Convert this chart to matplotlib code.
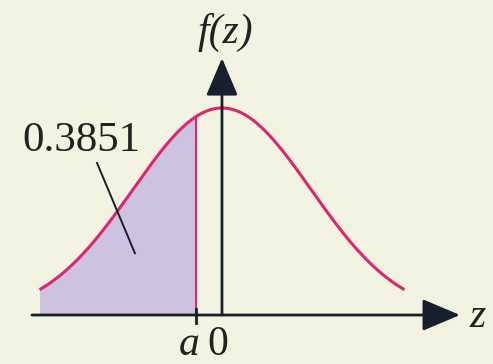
import math
import numpy as np
import matplotlib
matplotlib.use("Agg")
import matplotlib.pyplot as plt

# left-tail probability shown on the figure
area_label = "0.3851"
area = float(area_label)
z_range = [-2.05, 2.05]
axis_labels = ["f(z)", "z"]
tick_labels = ["a", "0"]


def cdf(z):
    return 0.5 * (1 + math.erf(z / math.sqrt(2)))


def inv_cdf(p, lo=-6.0, hi=6.0):
    for _ in range(80):
        mid = 0.5 * (lo + hi)
        if cdf(mid) < p:
            lo = mid
        else:
            hi = mid
    return 0.5 * (lo + hi)


a = inv_cdf(area)
z = np.linspace(z_range[0], z_range[1], 400)
fz = np.exp(-z ** 2 / 2) / math.sqrt(2 * math.pi)

bg = "#f2f4e1"
pink = "#e0256e"
ink = "#17202c"
serif = ["Liberation Serif", "DejaVu Serif"]

fig = plt.figure(figsize=(4.93, 3.64), dpi=100, facecolor=bg)
ax = fig.add_axes([0, 0, 1, 1])
ax.set_facecolor(bg)
ax.set_xlim(-2.494, 3.045)
ax.set_ylim(-0.0944, 0.607)
ax.axis("off")

# shaded tail
m = z <= a
ax.fill_between(np.append(z[m], a), 0, np.append(fz[m], math.exp(-a * a / 2) / math.sqrt(2 * math.pi)),
                color="#cdc2df", lw=0, zorder=1)
ax.plot(z, fz, color=pink, lw=2.2, zorder=3, solid_capstyle="butt")
ax.plot([a, a], [0, math.exp(-a * a / 2) / math.sqrt(2 * math.pi)], color=pink, lw=1.5, zorder=3)

# axes with arrows
arrow = dict(arrowstyle="-|>,head_length=1.3,head_width=0.55", color=ink, lw=2,
             mutation_scale=18, shrinkA=0, shrinkB=0)
ax.annotate("", xy=(2.674, 0), xytext=(-2.135, 0), arrowprops=arrow, zorder=4)
ax.annotate("", xy=(0, 0.495), xytext=(0, 0), arrowprops=arrow, zorder=4)
ax.plot([a, a], [-0.015, 0.012], color=ink, lw=2, zorder=4)

# leader line for the tail area
ax.plot([-1.404, -0.978], [0.293, 0.119], color=ink, lw=1.4, zorder=4)

ax.text(-1.584, 0.335, area_label, fontsize=31, family=serif, color="#222",
        ha="center", va="center")
ax.text(0.034, 0.545, axis_labels[0], fontsize=30, family=serif, style="italic",
        color="#222", ha="center", va="center")
ax.text(2.876, -0.004, axis_labels[1], fontsize=30, family=serif, style="italic",
        color="#222", ha="center", va="center")
ax.text(a - 0.08, -0.058, tick_labels[0], fontsize=30, family=serif, style="italic",
        color="#222", ha="center", va="center")
ax.text(-0.045, -0.058, tick_labels[1], fontsize=30, family=serif,
        color="#222", ha="center", va="center")

fig.savefig("out.png", dpi=100, facecolor=bg)
